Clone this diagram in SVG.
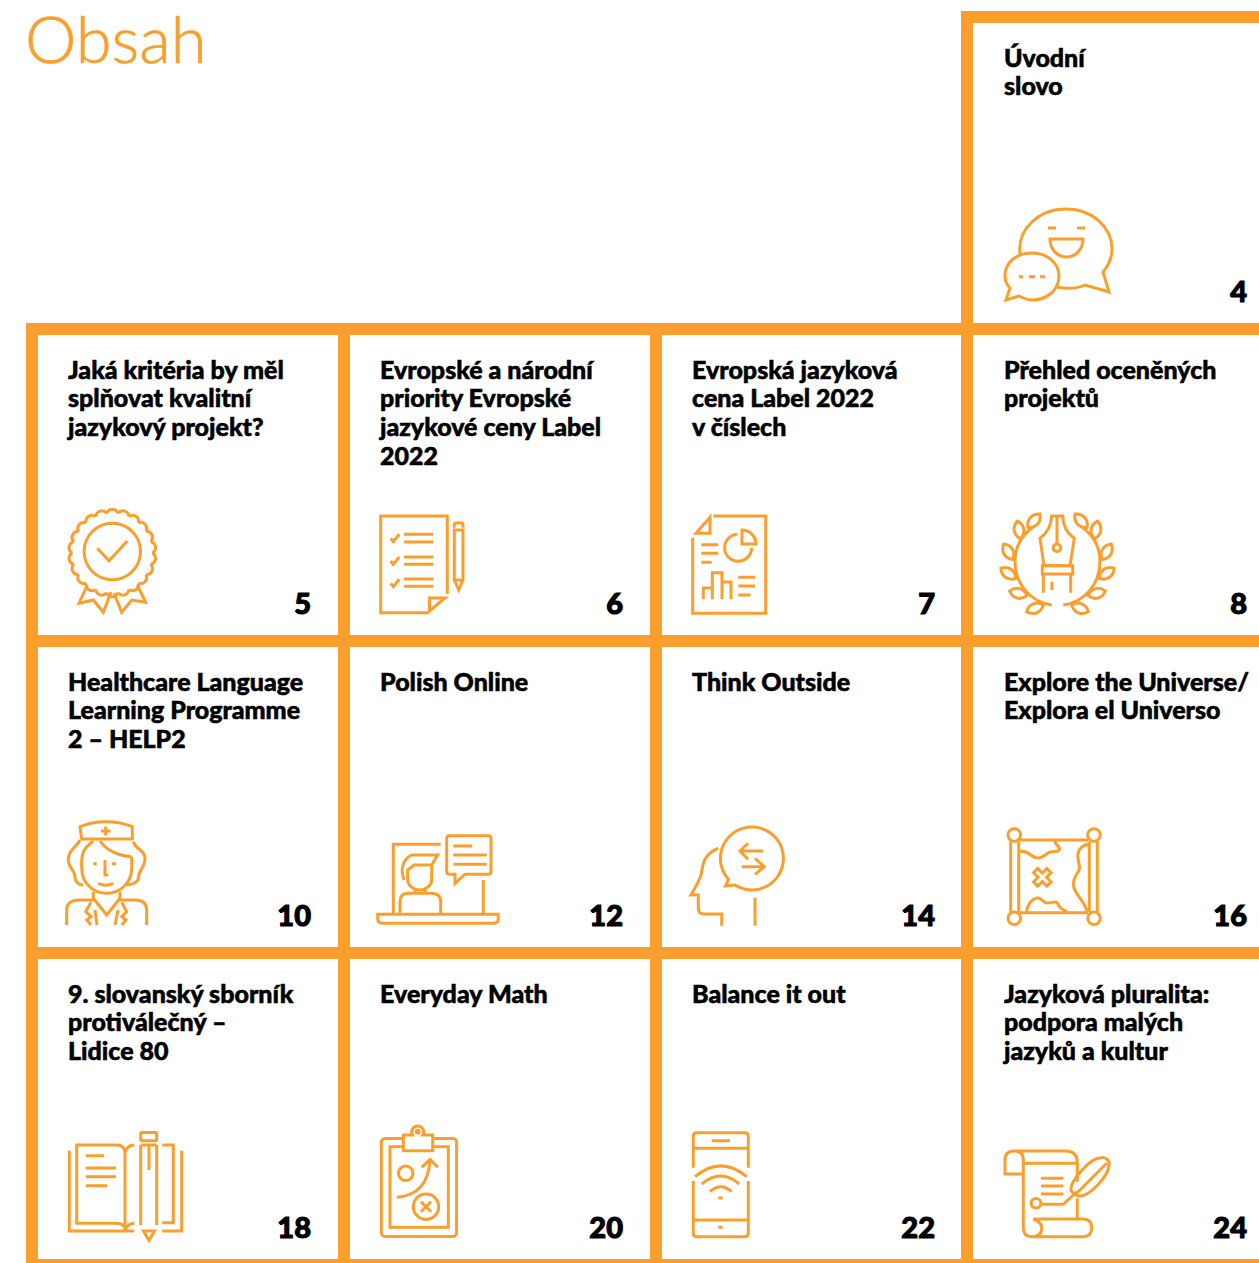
<svg xmlns="http://www.w3.org/2000/svg" width="1259" height="1263" viewBox="0 0 1259 1263">
<style>
.b{fill:#fa9f2d}
.i{fill:none;stroke:#fa9f2d;stroke-width:3;stroke-linejoin:miter}
.t{font-family:"Lato","Noto Sans",sans-serif;font-weight:900;font-size:25px;fill:#000;stroke:#000;stroke-width:.55}
.n{font-family:"Lato","Noto Sans",sans-serif;font-weight:900;font-size:29px;fill:#000;stroke:#000;stroke-width:1.1;text-anchor:end}
.h{font-family:"Lato","Noto Sans",sans-serif;font-weight:300;font-size:65px;fill:#fa9f2d;stroke:#fa9f2d;stroke-width:.7}
</style>
<defs>
<path id="lobe" d="M-5.7 -39.6C-3.5 -45 3.5 -45 5.7 -39.6"/>
<path id="leaf" d="M0 -9C6.5 -4 6.5 4 0 9C-6.5 4 -6.5 -4 0 -9Z"/>
<g id="laurel">
<path d="M1033 527C1021 536 1015 548 1015 561C1015 585 1031 602 1051.7 605"/>
<use href="#leaf" transform="translate(1034 520.7) rotate(42)"/>
<use href="#leaf" transform="translate(1019 530) rotate(-10)"/>
<use href="#leaf" transform="translate(1008.3 551.7) rotate(-30)"/>
<use href="#leaf" transform="translate(1008.3 573.3) rotate(-55)"/>
<use href="#leaf" transform="translate(1018.3 593.3) rotate(-75)"/>
<use href="#leaf" transform="translate(1035 608.3) rotate(68)"/>
</g>
</defs>
<rect width="1259" height="1263" fill="#fff"/>
<text class="h" x="25" y="63">Obsah</text>
<g id="grid">
<rect class="b" x="961" y="11" width="298" height="12"/>
<rect class="b" x="26" y="323" width="1233" height="12"/>
<rect class="b" x="26" y="635" width="1233" height="12"/>
<rect class="b" x="26" y="947" width="1233" height="12"/>
<rect class="b" x="26" y="1259" width="1233" height="4"/>
<rect class="b" x="26" y="323" width="12" height="940"/>
<rect class="b" x="338" y="323" width="12" height="940"/>
<rect class="b" x="650" y="323" width="12" height="940"/>
<rect class="b" x="961" y="11" width="12" height="1252"/>
</g>

<g id="n4">
<text class="t" x="1004" y="67">Úvodní</text><text class="t" x="1004" y="95">slovo</text>
<g class="i">
<path d="M1020 254C1017 228 1040 209 1066 209C1093 209 1112 228 1112 249C1112 259 1108 266 1103 272L1109 292L1085 285C1076 289 1066 289 1057 287"/>
<path d="M1010 288C1006 284 1005 280 1005 276C1005 262 1017 253 1032 253C1047 253 1059 263 1059 276C1059 290 1047 300 1032 300C1027 300 1023 298 1019 296L1006 300Z"/>
<path d="M1048 228H1056M1077 228H1085M1019 276.7H1023M1029 276.7H1035M1040 276.7H1045"/>
<path d="M1050 239H1083C1083 250 1075 257 1066.5 257C1058 257 1050 250 1050 239Z"/>
</g>
<text class="n" x="1247" y="302">4</text>
</g>

<g id="n5">
<text class="t" x="68" y="379">Jaká kritéria by měl</text><text class="t" x="68" y="407">splňovat kvalitní</text><text class="t" x="68" y="436">jazykový projekt?</text>
<g class="i">
<g transform="translate(112.3 553)">
<use href="#lobe"/><use href="#lobe" transform="rotate(16.36)"/><use href="#lobe" transform="rotate(32.73)"/><use href="#lobe" transform="rotate(49.09)"/><use href="#lobe" transform="rotate(65.45)"/><use href="#lobe" transform="rotate(81.82)"/><use href="#lobe" transform="rotate(98.18)"/><use href="#lobe" transform="rotate(114.55)"/><use href="#lobe" transform="rotate(130.91)"/><use href="#lobe" transform="rotate(147.27)"/><use href="#lobe" transform="rotate(163.64)"/><use href="#lobe" transform="rotate(180)"/><use href="#lobe" transform="rotate(196.36)"/><use href="#lobe" transform="rotate(212.73)"/><use href="#lobe" transform="rotate(229.09)"/><use href="#lobe" transform="rotate(245.45)"/><use href="#lobe" transform="rotate(261.82)"/><use href="#lobe" transform="rotate(278.18)"/><use href="#lobe" transform="rotate(294.55)"/><use href="#lobe" transform="rotate(310.91)"/><use href="#lobe" transform="rotate(327.27)"/><use href="#lobe" transform="rotate(343.64)"/>
</g>
<circle cx="112.3" cy="551.5" r="28.2"/>
<path d="M97.3 548.3L109 560.7L127.3 541"/>
<path d="M87.3 585L79 603.3L93.3 600L103.3 612.3L111 592.3M114 593.3L121.7 612.3L131.7 600L145.7 602.3L137.3 585"/>
</g>
<text class="n" x="311" y="614">5</text>
</g>

<g id="n6">
<text class="t" x="380" y="379">Evropské a národní</text><text class="t" x="380" y="407">priority Evropské</text><text class="t" x="380" y="436">jazykové ceny Label</text><text class="t" x="380" y="465">2022</text>
<g class="i">
<path d="M428.3 612.7H380.7V516H447.3V594"/>
<path d="M429.5 611V598H445Z"/>
<path d="M390.7 538.3L393.3 541.7L399.3 534.3M390.7 561L393.3 564.4L399.3 557M390.7 583.3L393.3 586.7L399.3 579.3"/>
<path d="M404 534.3H433.3M404 542H433.3M404 557H433.3M404 564.3H433.3M404 579H433.3M404 586.3H433.3"/>
<path d="M454.3 580V530H463V580ZM454.3 527.7V524.5Q454.3 523 456 523H461.3Q463 523 463 524.5V527.7M454.3 580L458.7 590L463 580"/>
</g>
<text class="n" x="623" y="614">6</text>
</g>

<g id="n7">
<text class="t" x="692" y="379">Evropská jazyková</text><text class="t" x="692" y="407">cena Label 2022</text><text class="t" x="692" y="436">v číslech</text>
<g class="i">
<path d="M713.3 516H765.7V613.3H692.7V537.7"/>
<path d="M710 517.3L696 533.3H710Z"/>
<path d="M737 534.3A13.5 13.5 0 1 0 751.6 547.7"/>
<path d="M742 530V544H756A14 14 0 0 0 742 530Z"/>
<path d="M701.3 544.7H718.3M701.3 553.3H718.3M701.3 562.3H711.7"/>
<path d="M703.3 599.3V588H712.3V572.7H722V599.3M712.3 588V599.3M722 582H731V599.3"/>
<path d="M738.3 577.3H755M738.3 586H755M738.3 595H750.7"/>
</g>
<text class="n" x="935" y="614">7</text>
</g>

<g id="n8">
<text class="t" x="1004" y="379">Přehled oceněných</text><text class="t" x="1004" y="407">projektů</text>
<g class="i">
<use href="#laurel"/>
<use href="#laurel" transform="translate(2115 0) scale(-1 1)"/>
<path d="M1051.7 516H1062.7C1063 528 1068 534 1074.3 538.3L1070 565.7H1044L1040 538.3C1046 534 1051 528 1051.7 516Z"/>
<path d="M1057 516V543.5"/>
<circle cx="1057" cy="547.7" r="3.8"/>
<rect x="1042.3" y="565.7" width="30.4" height="8.3"/>
<path d="M1043.3 574V592.7M1070.7 574V592.7M1052 581.7V590"/>
</g>
<text class="n" x="1247" y="614">8</text>
</g>

<g id="n10">
<text class="t" x="68" y="691">Healthcare Language</text><text class="t" x="68" y="719">Learning Programme</text><text class="t" x="68" y="748">2 – HELP2</text>
<g class="i">
<path d="M80 826.7C95 820 117 820 132.3 826.7V839H81.7Z"/>
<path d="M105.7 826.5V835.5M101 831H110.4"/>
<path d="M81.7 860C82 850 87 846 93.3 841M100 841C106 850 118 856 131.7 856.7M81.7 860V868C81.7 883 93 893.3 106.7 893.3C120 893.3 131.7 883 131.7 868V856.7"/>
<path d="M80 840C76 848 68.3 850 68.3 860C68.3 868 75 870 75 877C75 882 79 885 83 885M133.3 841.7C136 850 145 850 145 858.3C145 868 138.3 870 138.3 878.3C138.3 882 132 885 126.7 885"/>
<path d="M93.3 863.7H96.7M111.7 863.7H116M105 860V875H108.3M98.3 883.3Q105.7 887 113.3 883.3"/>
<path d="M66.7 925V910Q66.7 900 80 900H93.3V892M146.7 925V910Q146.7 900 135 900H120V892"/>
<path d="M93.3 898.3L106.7 915L120 898.3M91 902.3L85.7 911.7L91 916.7L86.7 920L91 925M121.7 902.3L126.7 911.7L121.7 916.7L126 920L121.7 925M95 910L97 925M118 910L115 925"/>
</g>
<text class="n" x="311" y="926">10</text>
</g>

<g id="n12">
<text class="t" x="380" y="691">Polish Online</text>
<g class="i">
<path d="M440.7 844.3H393.3V914M483.3 880V914"/>
<path d="M449.5 835.7H488.2Q491 835.7 491 838.5V871.5Q491 874.3 488.2 874.3H465L455 883.3V874.3H449.5Q446.7 874.3 446.7 871.5V838.5Q446.7 835.7 449.5 835.7Z"/>
<path d="M453.3 846H472.3M453.3 855H486.7M453.3 864.3H486.7"/>
<path d="M377.7 914.3H498.3V919Q498.3 923.3 493 923.3H383Q377.7 923.3 377.7 919Z"/>
<path d="M404 880C401 872 401 860 411.7 855H437.7L431.7 865H414L407.7 870V880C407.7 885 413 890 419.7 890C426 890 431.7 885 431.7 880V865"/>
<path d="M415 890V893.3M425 890V893.3M400 914V902Q400 893.3 408 893.3H431Q440.7 893.3 440.7 902V914"/>
</g>
<text class="n" x="623" y="926">12</text>
</g>

<g id="n14">
<text class="t" x="692" y="691">Think Outside</text>
<g class="i">
<path d="M735 885A31.5 31.5 0 1 0 728.5 879.5L725.5 886Z"/>
<path d="M741 851H763.3M748 843.3L740 851L748 859.3M741.7 866.7H764M755 858.3L764.3 866.7L755 874.3"/>
<path d="M718.3 848.3C708 852 703 860 702 870C701.5 878 696 886 691 895H698.3V908Q698.3 914 704 914H721.7V925.7M755 897.7V925.7"/>
</g>
<text class="n" x="935" y="926">14</text>
</g>

<g id="n16">
<text class="t" x="1004" y="691">Explore the Universe/</text><text class="t" x="1004" y="719">Explora el Universo</text>
<g class="i">
<circle cx="1014.3" cy="835" r="6.3"/><circle cx="1094" cy="835" r="6.3"/><circle cx="1014.3" cy="918.3" r="6.3"/><circle cx="1094" cy="918.3" r="6.3"/>
<path d="M1010.7 841.5V912M1018.7 841.5V912M1089.3 841.5V912M1097.3 841.5V912M1020 840H1088M1020 912.7H1088"/>
<path d="M1019 851.7C1028 849 1031 858 1038 858C1045 858 1047 851 1052 851.7C1060 852 1061 849 1058 846C1056 844 1055 842 1055 841"/>
<path d="M1088 844.3C1080 846 1077 852 1078 858C1079 866 1081 868 1078 872C1075 877 1072 881 1074 888C1076 895 1086 903 1087 912"/>
<path d="M1026.7 912C1027 904 1033 898 1038 898C1042 898 1043 903 1047 903C1052 903 1056 900 1058 904C1059 908 1063 910 1067 911.7"/>
<path transform="translate(1042.3 877.3) rotate(45)" d="M-3 -9.5H3V-3H9.5V3H3V9.5H-3V3H-9.5V-3H-3Z"/>
</g>
<text class="n" x="1247" y="926">16</text>
</g>

<g id="n18">
<text class="t" x="68" y="1003">9. slovanský sborník</text><text class="t" x="68" y="1031">protiválečný –</text><text class="t" x="68" y="1060">Lidice 80</text>
<g class="i">
<path d="M125 1153Q125 1145 116 1145H76.7V1223.3H116Q125 1223.3 125 1230V1153Q127 1145 134.3 1145M125 1230Q128 1223.3 134.3 1223.3"/>
<path d="M69.3 1150.7V1231H134.3M181.7 1150.7V1231H162.3M162.3 1145H173.3V1222.7H162.3"/>
<path d="M140.7 1145V1225M156.7 1145V1225M140.7 1145H156.7M149 1145V1170"/>
<rect x="140.7" y="1132.5" width="16" height="8.2" rx="1.2"/>
<path d="M143.5 1231H154.5L149 1240.5Z"/>
<path d="M85.7 1155.7H104M85.7 1168H116M85.7 1176.7H116M85.7 1185.7H107.3"/>
</g>
<text class="n" x="311" y="1238">18</text>
</g>

<g id="n20">
<text class="t" x="380" y="1003">Everyday Math</text>
<g class="i">
<rect x="381.3" y="1138.5" width="75.3" height="98" rx="4"/>
<rect x="390" y="1146.7" width="58.3" height="80.6"/>
<path d="M403.3 1135H412.5A6 6 0 1 1 423 1135H432.7V1150.7H403.3Z" fill="#fff"/>
<circle cx="417.7" cy="1131.7" r="1.4"/>
<circle cx="405.7" cy="1173.3" r="7.3"/>
<path d="M396.7 1197.3Q428 1195 430 1160M421.7 1167.3L430 1159.3L437.7 1167.3"/>
<circle cx="426" cy="1206.7" r="12.7"/>
<path d="M421 1201.7L431 1211.7M431 1201.7L421 1211.7"/>
</g>
<text class="n" x="623" y="1238">20</text>
</g>

<g id="n22">
<text class="t" x="692" y="1003">Balance it out</text>
<g class="i">
<path d="M693.3 1167.7V1136.5Q693.3 1132.7 697 1132.7H744.5Q748.3 1132.7 748.3 1136.5V1167.7M693.3 1148.3H748.3M711.7 1140.7H730"/>
<path d="M693.3 1181V1232.9Q693.3 1236.7 697 1236.7H744.5Q748.3 1236.7 748.3 1232.9V1181M693.3 1220H748.3M718.3 1227.3H722.7"/>
<path d="M695 1176.7Q720.7 1155 746.7 1176.7M701.7 1184Q720.7 1168 739.3 1184M710 1191.7Q720.7 1181.7 731.7 1191.7M718.3 1198H722.7"/>
</g>
<text class="n" x="935" y="1238">22</text>
</g>

<g id="n24">
<text class="t" x="1004" y="1003">Jazyková pluralita:</text><text class="t" x="1004" y="1031">podpora malých</text><text class="t" x="1004" y="1060">jazyků a kultur</text>
<g class="i">
<path d="M1024.3 1174H1005V1160Q1005 1151 1014 1151H1065Q1077.3 1151 1077.3 1162V1181.7M1014 1151Q1023.3 1151 1023.3 1160V1228Q1023.3 1236.7 1031.7 1236.7Q1041.7 1236.7 1041.7 1228.3Q1041.7 1222 1033.3 1219H1083Q1091.7 1219 1091.7 1227.7Q1091.7 1236.7 1083 1236.7H1031.7M1024 1163.3H1077.3M1077.3 1198.3V1218.5"/>
<path d="M1041 1178.3H1063.3M1041 1186H1063.3M1041 1194H1063.3M1041 1204.3H1063.3L1077 1191.7"/>
<circle cx="1036" cy="1203.3" r="4.8"/>
<path d="M1071 1188C1072 1180 1090 1158 1100 1158C1107 1156 1110 1162 1109 1166C1108 1176 1090 1196 1080 1196C1076 1196 1070 1192 1071 1188ZM1076.7 1193.3L1106.7 1163.3"/>
</g>
<text class="n" x="1247" y="1238">24</text>
</g>
</svg>
